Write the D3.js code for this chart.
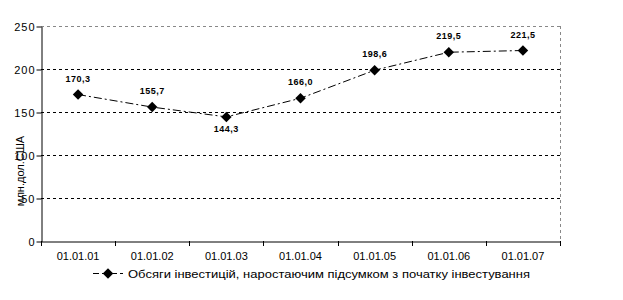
<!DOCTYPE html>
<html><head><meta charset="utf-8">
<script src="https://cdn.jsdelivr.net/npm/d3@7"></script>
<style>body{margin:0;background:#fff}svg{display:block;font-family:"Liberation Sans",Arial,sans-serif}</style>
</head><body>
<svg id="c" width="623" height="300"></svg>
<script>
const categories = ["01.01.01","01.01.02","01.01.03","01.01.04","01.01.05","01.01.06","01.01.07"];
const values = [170.3,155.7,144.3,166.0,198.6,219.5,221.5];
const labels = ["170,3","155,7","144,3","166,0","198,6","219,5","221,5"];
const yTicks = [0,50,100,150,200,250];
const seriesName = "Обсяги інвестицій, наростаючим підсумком з початку  інвестування";
const yTitle = "млн.дол.США";

const svg = d3.select("#c");
const L=41, R=560, T=26, B=241;
const x = d3.scaleBand().domain(categories).range([L,R]);
const y = d3.scaleLinear().domain([0,250]).range([B,T]);

// gridlines
svg.append("g").selectAll("line").data(yTicks.filter(d=>d>0&&d<250)).join("line")
  .attr("x1",L).attr("x2",R).attr("y1",d=>Math.round(y(d))+0.5).attr("y2",d=>Math.round(y(d))+0.5)
  .attr("stroke","#000").attr("stroke-width",1).attr("stroke-dasharray","3,3");
// plot border top/right gray dashed
svg.append("line").attr("x1",L).attr("x2",R).attr("y1",y(250)+0.5).attr("y2",y(250)+0.5)
  .attr("stroke","#888").attr("stroke-dasharray","3,3");
svg.append("line").attr("x1",R+0.5).attr("x2",R+0.5).attr("y1",T).attr("y2",B)
  .attr("stroke","#888").attr("stroke-dasharray","3,3");

// axes
const yAxis = svg.append("g").attr("transform",`translate(${L+0.5},0.5)`)
  .call(d3.axisLeft(y).tickValues(yTicks).tickSize(5).tickSizeOuter(0));
yAxis.select(".domain").attr("stroke","#000");
yAxis.selectAll("text").attr("font-size","11px").attr("fill","#000").attr("x",-6)
  .style("letter-spacing","1px")
  .style("font-family","Liberation Sans, Arial, sans-serif");
const xAxis = svg.append("g").attr("transform",`translate(0,${B+0.5})`)
  .call(d3.axisBottom(x).tickSize(0).tickSizeOuter(0));
xAxis.select(".domain").attr("stroke","#000");
xAxis.selectAll("text").attr("font-size","11px").attr("fill","#000").attr("dy","1.45em")
  .style("font-family","Liberation Sans, Arial, sans-serif");
// boundary ticks
const bounds = categories.map(c=>x(c)).concat([R]);
svg.append("g").selectAll("line").data(bounds).join("line")
  .attr("x1",d=>Math.round(d)+0.5).attr("x2",d=>Math.round(d)+0.5)
  .attr("y1",B).attr("y2",B+5).attr("stroke","#000");

// y title
svg.append("text").attr("transform",`translate(24,171) rotate(-90)`)
  .attr("text-anchor","middle").attr("font-size","11px").attr("fill","#000").text(yTitle);

// line
const cx = c=>x(c)+x.bandwidth()/2;
const data = categories.map((c,i)=>({c,v:values[i],l:labels[i]}));
svg.append("path").datum(data)
  .attr("d",d3.line().x(d=>cx(d.c)).y(d=>y(d.v)))
  .attr("fill","none").attr("stroke","#000").attr("stroke-width",1)
  .attr("stroke-dasharray","8,3,2,3");
const diamond = d3.symbol().type(d3.symbolDiamond2).size(70);
svg.append("g").selectAll("path").data(data).join("path")
  .attr("d",diamond).attr("transform",d=>`translate(${cx(d.c)},${y(d.v)})`).attr("fill","#000");
svg.append("g").selectAll("text").data(data).join("text")
  .attr("x",d=>cx(d.c)).attr("y",(d,i)=> i===2 ? y(d.v)+15 : y(d.v)-13)
  .attr("text-anchor","middle").attr("font-size","9px").attr("font-weight","bold").attr("fill","#000")
  .style("letter-spacing","0.5px")
  .text(d=>d.l);

// legend
const lg = svg.append("g").attr("transform","translate(0,273.5)");
lg.append("line").attr("x1",93).attr("x2",123).attr("y1",0).attr("y2",0)
  .attr("stroke","#000").attr("stroke-dasharray","6,3");
lg.append("path").attr("d",diamond).attr("transform","translate(108,0)").attr("fill","#000");
lg.append("text").attr("x",128).attr("y",4).attr("font-size","11px").attr("fill","#000")
  .attr("textLength",402).attr("lengthAdjust","spacingAndGlyphs").text(seriesName);
</script>
</body></html>
